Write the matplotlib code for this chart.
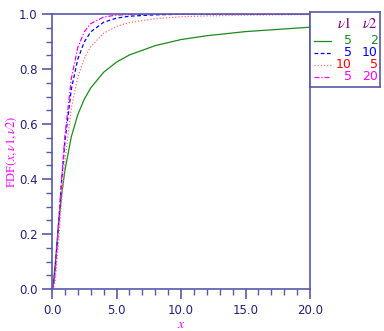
import matplotlib
matplotlib.use('Agg')
import matplotlib.pyplot as plt
from matplotlib.ticker import MultipleLocator, FormatStrFormatter

plt.rcParams['mathtext.fontset'] = 'stix'

# values (F cdf curves)
x_vals = [0.0, 0.1, 0.25, 0.5, 0.75, 1.0, 1.5, 2.0, 2.5, 3.0, 4.0, 5.0, 6.0, 8.0, 10.0, 12.0, 15.0, 20.0]
cdf_5_2 = [0.0, 0.018, 0.092, 0.230, 0.344, 0.431, 0.554, 0.634, 0.690, 0.731, 0.788, 0.825, 0.851, 0.885, 0.907, 0.921, 0.936, 0.952]
cdf_5_10 = [0.0, 0.010, 0.070, 0.230, 0.396, 0.535, 0.727, 0.836, 0.898, 0.935, 0.970, 0.985, 0.992, 0.997, 0.999, 0.9994, 0.9998, 0.9999]
cdf_10_5 = [0.0, 0.001, 0.030, 0.164, 0.326, 0.465, 0.658, 0.770, 0.838, 0.881, 0.930, 0.955, 0.969, 0.983, 0.990, 0.993, 0.996, 0.998]
cdf_5_20 = [0.0, 0.009, 0.065, 0.227, 0.404, 0.557, 0.766, 0.878, 0.935, 0.965, 0.989, 0.996, 0.998, 0.9998, 1.0, 1.0, 1.0, 1.0]

nu1 = ['5', '5', '10', '5']
nu2 = ['2', '10', '5', '20']
series = [cdf_5_2, cdf_5_10, cdf_10_5, cdf_5_20]
colors = ['#1a8c1a', '#0000ff', '#ff7070', '#ff00ff']
styles = ['-', (0, (3, 2)), (0, (1, 1.5)), (0, (4, 1.5, 1, 1.5))]
text_colors = ['#1a8c1a', '#0000ff', '#ff0000', '#ff00ff']

frame_col = '#5858a8'
tick_col = '#20207a'

fig = plt.figure(figsize=(3.84, 3.31), dpi=100)
ax = fig.add_axes([52/384, 1-289/331, 258/384, 275/331])

for ys, c, ls in zip(series, colors, styles):
    ax.plot(x_vals, ys, color=c, linestyle=ls, linewidth=0.9)

ax.set_xlim(0, 20)
ax.set_ylim(0, 1)
ax.xaxis.set_major_locator(MultipleLocator(5))
ax.xaxis.set_minor_locator(MultipleLocator(1))
ax.yaxis.set_major_locator(MultipleLocator(0.2))
ax.yaxis.set_minor_locator(MultipleLocator(0.05))
ax.xaxis.set_major_formatter(FormatStrFormatter('%.1f'))
ax.yaxis.set_major_formatter(FormatStrFormatter('%.1f'))
ax.tick_params(which='both', direction='out', colors=frame_col, labelcolor=tick_col, labelsize=8.5)
ax.tick_params(which='major', length=7, width=1.2)
ax.tick_params(which='minor', length=4, width=1.0)
for s in ax.spines.values():
    s.set_color(frame_col)
    s.set_linewidth(1.2)

ax.set_xlabel(r'$\mathit{x}$', color='#ff00ff', fontsize=10, labelpad=0)
fig.text(12/384, 1-152/331, r'FDF$(\mathit{x},\nu1,\nu2)$', color='#ff00ff', fontsize=9,
         family='Liberation Serif', rotation=90, ha='center', va='center')

# legend box
lg = fig.add_axes([310/384, 1-87/331, 70/384, 75/331])
lg.set_xlim(310, 380)
lg.set_ylim(87, 12)
lg.set_xticks([])
lg.set_yticks([])
for s in lg.spines.values():
    s.set_color(frame_col)
    s.set_linewidth(1.2)
lg.text(352, 24, r'$\nu1$', color='#800080', fontsize=10.5, ha='right', va='center')
lg.text(378, 24, r'$\nu2$', color='#800080', fontsize=10.5, ha='right', va='center')
row_y = [41, 53, 65, 77]
for y, a, b, c, tc, ls in zip(row_y, nu1, nu2, colors, text_colors, styles):
    lg.plot([314, 331], [y, y], color=c, linestyle=ls, linewidth=0.9)
    lg.text(352, y, a, color=tc, fontsize=9, ha='right', va='center')
    lg.text(378, y, b, color=tc, fontsize=9, ha='right', va='center')

fig.savefig('out.png', dpi=100)
